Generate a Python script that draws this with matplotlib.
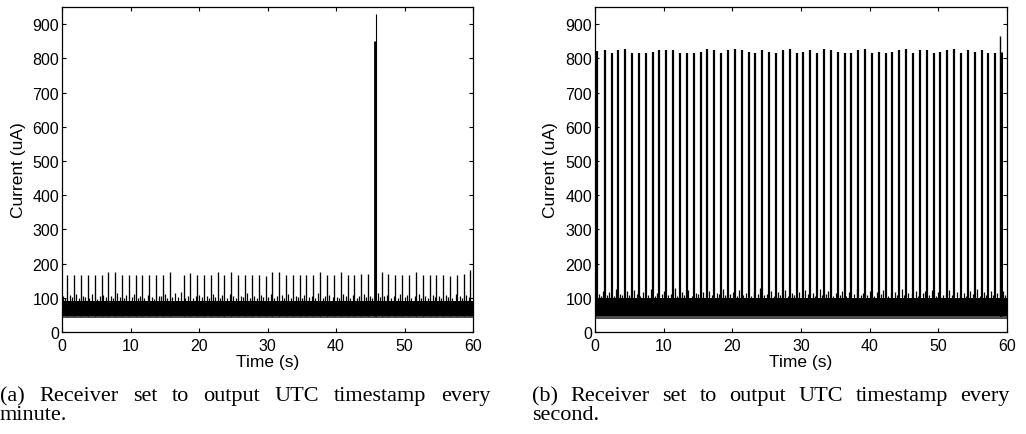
import matplotlib
matplotlib.use('Agg')
import matplotlib.pyplot as plt

plt.rcParams['font.family'] = ['Liberation Sans', 'DejaVu Sans']

# ---------------- data ----------------
duration = [0, 60]
y_limits = [0, 950]
x_ticks = [0, 10, 20, 30, 40, 50, 60]
y_ticks = [0, 100, 200, 300, 400, 500, 600, 700, 800, 900]

# (a) UTC timestamp every minute
left_band = [46, 92]          # dense noise floor (uA)
left_fringe = [41, 46]        # ragged lower edge of the noise
left_spike_times = [0.78, 1.78, 2.77, 3.77, 4.77, 5.77, 6.76, 7.76, 8.76, 9.76,
                    10.75, 11.75, 12.75, 13.75, 14.74, 15.74,
                    17.74, 18.73, 19.73, 20.73, 21.73, 22.72, 23.72, 24.72, 25.72, 26.71,
                    27.71, 28.71, 29.71,
                    30.70, 31.70, 32.70, 33.70, 34.69, 35.69, 36.69, 37.69, 38.68, 39.68,
                    40.68, 41.68, 42.67, 43.67, 44.67,
                    46.66, 47.66, 48.66, 49.66, 50.65, 51.65, 52.65, 53.65, 54.64, 55.64,
                    56.64, 57.64, 58.63, 59.63]
left_spike_heights = [167, 166, 168, 166, 167, 166, 175, 174, 167, 166,
                      167, 166, 168, 166, 167, 174,
                      168, 173, 166, 167, 166, 175, 166, 174, 167, 166,
                      167, 166, 163,
                      175, 174, 167, 166, 167, 166, 167, 175, 166, 167,
                      175, 166, 167, 171, 171,
                      175, 171, 167, 166, 167, 175, 167, 166, 167, 166,
                      163, 167, 171, 180]
left_burst_times = [45.78, 45.74]
left_burst_heights = [930, 852]
left_small_times = [0.2, 0.5, 1.1, 1.4, 2.1, 2.5, 3.0, 3.3, 4.0, 4.4,
                    5.1, 5.5, 6.0, 6.4, 7.2, 7.4, 8.1, 8.5, 9.0, 9.4,
                    10.2, 10.5, 11.1, 11.4, 12.0, 12.5, 13.1, 13.4, 14.1, 14.5,
                    15.0, 15.3, 16.1, 16.5, 16.9, 17.3, 18.0, 18.4, 19.1, 19.5,
                    20.0, 20.4, 21.1, 21.5, 22.1, 22.4, 23.0, 23.4, 24.1, 24.5,
                    25.0, 25.4, 26.1, 26.4, 27.0, 27.5, 28.1, 28.4, 29.0, 29.4,
                    30.1, 30.5, 31.0, 31.4, 32.1, 32.4, 33.0, 33.5, 34.1, 34.4,
                    35.0, 35.4, 36.1, 36.5, 37.0, 37.4, 38.1, 38.4, 39.0, 39.5,
                    40.1, 40.4, 41.0, 41.4, 42.1, 42.5, 43.0, 43.4, 44.1, 44.4,
                    45.0, 45.3, 46.1, 46.4, 47.0, 47.4, 48.1, 48.5, 49.0, 49.4,
                    50.1, 50.4, 51.0, 51.5, 52.1, 52.4, 53.0, 53.4, 54.1, 54.5,
                    55.0, 55.4, 56.1, 56.4, 57.0, 57.5, 58.1, 58.4, 59.0, 59.4]
left_small_heights = [104, 99, 108, 101, 112, 98, 106, 103, 100, 110,
                      97, 105, 109, 101, 104, 99, 113, 102, 98, 107,
                      103, 111, 100, 105, 99, 108, 102, 97, 106, 104,
                      110, 99, 101, 115, 103, 118, 100, 106, 98, 104,
                      109, 101, 105, 99, 112, 103, 100, 107, 98, 111,
                      104, 99, 106, 102, 113, 100, 105, 98, 108, 103,
                      101, 110, 99, 104, 107, 100, 112, 98, 105, 103,
                      99, 109, 102, 106, 100, 114, 98, 104, 108, 101,
                      103, 99, 111, 105, 100, 107, 98, 104, 110, 102,
                      106, 99, 113, 101, 104, 108, 100, 105, 98, 111,
                      103, 107, 99, 104, 112, 100, 106, 98, 109, 102,
                      105, 100, 108, 103, 99, 111, 104, 100, 107, 102]

# (b) UTC timestamp every second
right_band = [46, 99]
right_fringe = [39, 46]
right_spike_times = [0.28, 1.41, 2.41, 3.41, 4.40, 5.40, 6.40, 7.40, 8.40, 9.39,
                     10.39, 11.39, 12.39, 13.39, 14.38, 15.38, 16.38, 17.38, 18.38, 19.37,
                     20.37, 21.37, 22.37, 23.37, 24.36, 25.36, 26.36, 27.36, 28.36, 29.35,
                     30.35, 31.35, 32.35, 33.34, 34.34, 35.34, 36.34, 37.34, 38.33, 39.33,
                     40.33, 41.33, 42.33, 43.32, 44.32, 45.32, 46.32, 47.32, 48.31, 49.31,
                     50.31, 51.31, 52.31, 53.30, 54.30, 55.30, 56.30, 57.30, 58.29]
right_spike_heights = [822, 825, 817, 824, 826, 817, 816, 817, 818, 825,
                       825, 824, 817, 817, 816, 818, 826, 824, 817, 825,
                       826, 824, 818, 817, 825, 818, 817, 824, 826, 817,
                       818, 825, 817, 826, 825, 818, 817, 816, 825, 826,
                       817, 818, 817, 818, 825, 826, 817, 825, 824, 817,
                       818, 824, 826, 817, 825, 818, 824, 817, 816]
right_burst_times = [58.93, 59.08]
right_burst_heights = [864, 818]
right_small_times = [0.6, 0.9, 1.1, 1.8, 2.1, 2.7, 3.0, 3.6, 3.9, 4.7,
                     5.0, 5.7, 6.1, 6.6, 7.0, 7.7, 8.1, 8.7, 9.0, 9.7,
                     10.0, 10.7, 11.1, 11.7, 12.0, 12.7, 13.0, 13.6, 14.1, 14.7,
                     15.0, 15.7, 16.1, 16.6, 17.0, 17.7, 18.1, 18.6, 19.0, 19.7,
                     20.1, 20.7, 21.0, 21.6, 22.0, 22.7, 23.1, 23.7, 24.0, 24.6,
                     25.1, 25.7, 26.0, 26.6, 27.0, 27.7, 28.1, 28.7, 29.0, 29.7,
                     30.1, 30.6, 31.0, 31.7, 32.0, 32.7, 33.1, 33.6, 34.0, 34.7,
                     35.1, 35.7, 36.0, 36.6, 37.0, 37.7, 38.1, 38.7, 39.0, 39.6,
                     40.0, 40.7, 41.1, 41.7, 42.0, 42.6, 43.1, 43.7, 44.0, 44.7,
                     45.0, 45.6, 46.1, 46.7, 47.0, 47.7, 48.0, 48.6, 49.1, 49.7,
                     50.0, 50.7, 51.1, 51.6, 52.0, 52.7, 53.1, 53.7, 54.0, 54.6,
                     55.0, 55.7, 56.1, 56.7, 57.0, 57.6, 58.0, 58.6, 59.4, 59.7]
right_small_heights = [112, 106, 121, 109, 117, 104, 125, 110, 107, 119,
                       108, 123, 111, 105, 118, 109, 127, 106, 114, 110,
                       120, 107, 112, 129, 105, 116, 109, 122, 106, 113,
                       110, 118, 104, 121, 108, 115, 111, 126, 107, 112,
                       117, 106, 123, 109, 114, 105, 119, 110, 128, 107,
                       111, 120, 106, 116, 108, 124, 105, 113, 109, 118,
                       107, 122, 110, 115, 104, 127, 108, 112, 119, 106,
                       114, 109, 121, 105, 117, 110, 125, 107, 113, 108,
                       120, 106, 116, 111, 123, 105, 112, 118, 109, 126,
                       107, 115, 110, 121, 106, 113, 119, 108, 124, 105,
                       117, 109, 112, 122, 107, 118, 110, 114, 106, 120,
                       111, 125, 105, 116, 108, 119, 107, 113, 121, 109]

x_label = 'Time (s)'
y_label = 'Current (uA)'
caption_a = ['(a) Receiver set to output UTC timestamp every', 'minute.']
caption_b = ['(b) Receiver set to output UTC timestamp every', 'second.']

# ---------------- figure ----------------
W, H = 1026, 435
fig = plt.figure(figsize=(W / 100, H / 100), dpi=100)


def px_axes(x0, x1, y_top, y_bot):
    return fig.add_axes([x0 / W, 1 - y_bot / H, (x1 - x0) / W, (y_bot - y_top) / H])


def draw_panel(ax, band, fringe, sp_t, sp_h, sp_lw, b_t, b_h, b_lw, sm_t, sm_h):
    ax.fill_between(duration, band[0], band[1], color='black', lw=0, zorder=2)
    ax.fill_between(duration, fringe[0], fringe[1], color='0.3', lw=0, zorder=1)
    ax.vlines(sm_t, band[1] - 5, sm_h, colors='black', lw=0.9, zorder=3)
    ax.vlines(sp_t, band[0], sp_h, colors='black', lw=sp_lw, zorder=3)
    ax.vlines(b_t, band[0], b_h, colors='black', lw=b_lw, zorder=3)
    ax.set_xlim(duration)
    ax.set_ylim(y_limits)
    ax.set_xticks(x_ticks)
    ax.set_yticks(y_ticks)
    ax.tick_params(axis='both', direction='in', top=True, right=True,
                   length=3, width=0.8, labelsize=11.5, color='black')
    ax.tick_params(axis='x', pad=4)
    ax.tick_params(axis='y', pad=2)
    for s in ax.spines.values():
        s.set_linewidth(0.9)
        s.set_color('black')
    ax.set_xlabel(x_label, fontsize=12.5)
    ax.set_ylabel(y_label, fontsize=12.5)


axL = px_axes(62, 473, 8, 333)
draw_panel(axL, left_band, left_fringe, left_spike_times, left_spike_heights, 0.95,
           left_burst_times, left_burst_heights, [0.8, 2.0],
           left_small_times, left_small_heights)
axL.xaxis.set_label_coords(0.5, (333 - 363) / 325)
axL.xaxis.label.set_va('center')
axL.yaxis.set_label_coords((18.5 - 62) / 411, 0.5)
axL.yaxis.label.set_va('center')

axR = px_axes(595, 1007, 8, 333)
draw_panel(axR, right_band, right_fringe, right_spike_times, right_spike_heights, 1.6,
           right_burst_times, right_burst_heights, [1.0, 2.2],
           right_small_times, right_small_heights)
axR.xaxis.set_label_coords(0.5, (333 - 363) / 325)
axR.xaxis.label.set_va('center')
axR.yaxis.set_label_coords((551 - 595) / 412, 0.5)
axR.yaxis.label.set_va('center')

# ---------------- justified captions ----------------
CAP_FS = 16
fig.canvas.draw()
renderer = fig.canvas.get_renderer()


def caption(lines, x0, x1, baselines):
    words = lines[0].split(' ')
    texts = [fig.text(0, 1 - baselines[0] / H, w, fontsize=CAP_FS, family='Liberation Serif',
                      ha='left', va='baseline') for w in words]
    widths = [t.get_window_extent(renderer).width for t in texts]
    gap = (x1 - x0 - sum(widths)) / (len(words) - 1)
    x = x0
    for t, w in zip(texts, widths):
        t.set_x(x / W)
        x += w + gap
    fig.text(x0 / W, 1 - baselines[1] / H, lines[1], fontsize=CAP_FS,
             family='Liberation Serif', ha='left', va='baseline')


caption(caption_a, 0, 490, [401, 420])
caption(caption_b, 532, 1010, [401, 420])

fig.savefig('out.png', dpi=100)
